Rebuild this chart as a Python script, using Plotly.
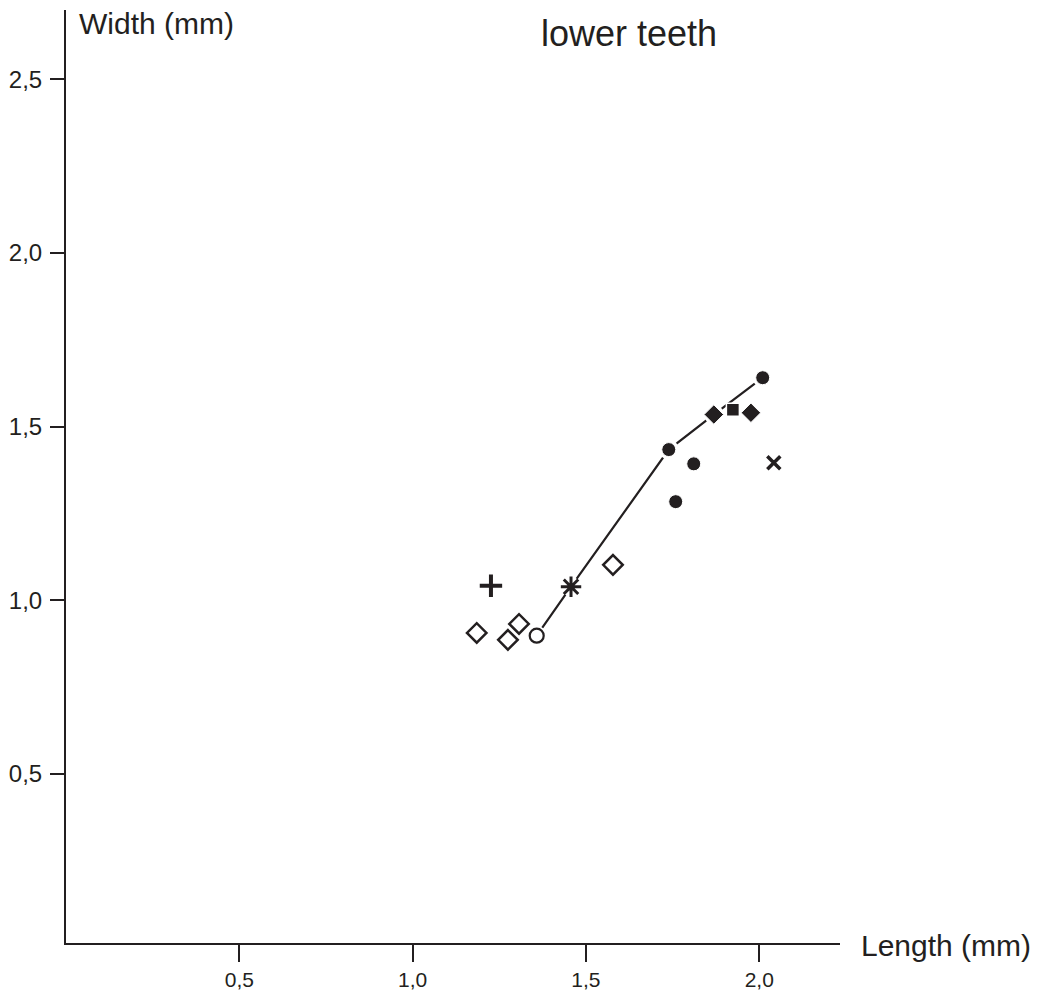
import plotly.graph_objects as go

# Data (length mm, width mm)
open_diamond_x = [1.185, 1.275, 1.307, 1.578]
open_diamond_y = [0.906, 0.886, 0.932, 1.102]
open_circle_x = [1.358]
open_circle_y = [0.898]
plus_x = [1.226]
plus_y = [1.042]
asterisk_x = [1.457]
asterisk_y = [1.039]
filled_circle_x = [1.739, 1.759, 1.811, 2.010]
filled_circle_y = [1.434, 1.284, 1.393, 1.641]
filled_diamond_x = [1.869, 1.976]
filled_diamond_y = [1.535, 1.540]
filled_square_x = [1.924]
filled_square_y = [1.549]
cross_x = [2.042]
cross_y = [1.396]
line_x = [1.358, 1.457, 1.739, 1.869, 2.010]
line_y = [0.898, 1.039, 1.434, 1.535, 1.641]

tick_vals = [0.5, 1.0, 1.5, 2.0]
x_tick_text = ["0,5", "1,0", "1,5", "2,0"]
y_tick_vals = [0.5, 1.0, 1.5, 2.0, 2.5]
y_tick_text = ["0,5", "1,0", "1,5", "2,0", "2,5"]

INK = "#231f20"
fig = go.Figure()
fig.add_trace(go.Scatter(x=line_x, y=line_y, mode="lines",
                         line=dict(color=INK, width=2.2), hoverinfo="skip"))
# white halos breaking the line at marker positions
fig.add_trace(go.Scatter(x=line_x, y=line_y, mode="markers",
                         marker=dict(symbol="circle", size=20, color="white"),
                         hoverinfo="skip"))
fig.add_trace(go.Scatter(x=open_diamond_x, y=open_diamond_y, mode="markers",
                         marker=dict(symbol="diamond", size=15, color="white",
                                     line=dict(color=INK, width=2.5))))
fig.add_trace(go.Scatter(x=open_circle_x, y=open_circle_y, mode="markers",
                         marker=dict(symbol="circle", size=14, color="white",
                                     line=dict(color=INK, width=2.2))))
fig.add_trace(go.Scatter(x=plus_x, y=plus_y, mode="markers",
                         marker=dict(symbol="cross-thin", size=16, color=INK,
                                     line=dict(color=INK, width=4))))
fig.add_trace(go.Scatter(x=asterisk_x, y=asterisk_y, mode="markers",
                         marker=dict(symbol="asterisk", size=17, color=INK,
                                     line=dict(color=INK, width=3))))
fig.add_trace(go.Scatter(x=filled_circle_x, y=filled_circle_y, mode="markers",
                         marker=dict(symbol="circle", size=14, color=INK,
                                     line=dict(color="white", width=1))))
fig.add_trace(go.Scatter(x=filled_diamond_x, y=filled_diamond_y, mode="markers",
                         marker=dict(symbol="diamond", size=15, color=INK,
                                     line=dict(color="white", width=1))))
fig.add_trace(go.Scatter(x=filled_square_x, y=filled_square_y, mode="markers",
                         marker=dict(symbol="square", size=13, color=INK,
                                     line=dict(color="white", width=1.5))))
fig.add_trace(go.Scatter(x=cross_x, y=cross_y, mode="markers",
                         marker=dict(symbol="x-thin", size=13, color=INK,
                                     line=dict(color=INK, width=3.5))))

font = "Liberation Sans, Arial, sans-serif"
fig.update_layout(
    width=1041, height=984,
    margin=dict(l=58, r=209, t=2, b=49),
    paper_bgcolor="white", plot_bgcolor="white",
    showlegend=False,
    font=dict(family=font, color=INK, size=18),
    xaxis=dict(range=[0, 2.233], showgrid=False, zeroline=False, automargin=False,
               showline=True, linecolor=INK, linewidth=2,
               ticks="outside", ticklen=17, tickwidth=1.5, tickcolor=INK,
               tickvals=tick_vals, ticktext=x_tick_text,
               tickfont=dict(size=21, color=INK)),
    yaxis=dict(range=[0.013, 2.70], showgrid=False, zeroline=False, automargin=False,
               showline=True, linecolor=INK, linewidth=2,
               ticks="outside", ticklen=14, tickwidth=1.5, tickcolor=INK,
               ticklabelstandoff=3,
               tickvals=y_tick_vals, ticktext=y_tick_text,
               tickfont=dict(size=24, color=INK)),
    annotations=[
        dict(text="lower teeth", xref="paper", yref="paper", x=0.727, y=0.975,
             xanchor="center", yanchor="middle", showarrow=False,
             font=dict(size=36, color=INK)),
        dict(text="Width (mm)", xref="paper", yref="paper", x=0.014, y=0.985,
             xanchor="left", yanchor="middle", showarrow=False,
             font=dict(size=30, color=INK)),
        dict(text="Length (mm)", xref="paper", yref="paper", x=1.0245, y=-0.003,
             xanchor="left", yanchor="middle", showarrow=False,
             font=dict(size=30, color=INK)),
    ],
)
fig.write_html("out.html")
